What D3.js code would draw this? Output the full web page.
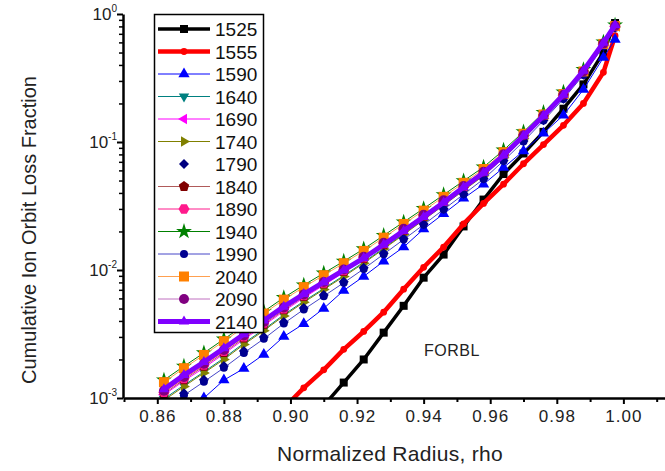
<!DOCTYPE html>
<html>
<head>
<meta charset="utf-8">
<script src="https://cdnjs.cloudflare.com/ajax/libs/d3/7.8.5/d3.min.js"></script>
<style>
  body { margin: 0; background: #fff; }
  text { font-family: "Liberation Sans", Arial, sans-serif; }
</style>
</head>
<body>
<div id="chart"></div>
<script>
// normalized radius grid
var rho = [0.862, 0.868, 0.874, 0.880, 0.886, 0.892, 0.898, 0.904, 0.910, 0.916, 0.922, 0.928,
           0.934, 0.940, 0.946, 0.952, 0.958, 0.964, 0.970, 0.976, 0.982, 0.988, 0.994, 0.9975];

// cumulative loss fraction per series
var s1525 = [2.51e-5, 3.98e-5, 6.31e-5, 1.0e-4, 1.58e-4, 2.51e-4, 3.80e-4, 6.03e-4, 8.71e-4, 1.32e-3, 2.00e-3, 3.24e-3,
             5.25e-3, 8.71e-3, 0.0132, 0.0219, 0.0355, 0.0562, 0.0813, 0.120, 0.182, 0.282, 0.501, 0.851];
var s1555 = [1.26e-4, 1.78e-4, 2.51e-4, 3.55e-4, 4.79e-4, 6.31e-4, 8.32e-4, 1.20e-3, 1.66e-3, 2.40e-3, 3.31e-3, 4.68e-3,
             7.08e-3, 0.0105, 0.0151, 0.0229, 0.0331, 0.0468, 0.0676, 0.0955, 0.135, 0.200, 0.350, 0.676];
var s1590 = [5.0e-4, 7.1e-4, 1.0e-3, 1.38e-3, 1.70e-3, 2.19e-3, 3.02e-3, 3.80e-3, 5.01e-3, 6.92e-3, 8.91e-3, 0.0117,
             0.0151, 0.0209, 0.0275, 0.0363, 0.0468, 0.0631, 0.0851, 0.117, 0.162, 0.257, 0.457, 0.631];
var s1640 = [9.84e-4, 1.26e-3, 1.60e-3, 2.05e-3, 2.68e-3, 3.43e-3, 4.47e-3, 5.70e-3, 7.17e-3, 9.04e-3, 0.0115, 0.0148,
             0.0192, 0.0249, 0.0324, 0.0423, 0.0551, 0.0759, 0.107, 0.154, 0.226, 0.345, 0.575, 0.794];
var s1690 = [1.06e-3, 1.36e-3, 1.72e-3, 2.21e-3, 2.87e-3, 3.68e-3, 4.78e-3, 6.07e-3, 7.61e-3, 9.56e-3, 0.0121, 0.0156,
             0.0201, 0.0259, 0.0337, 0.0438, 0.0568, 0.0780, 0.110, 0.158, 0.230, 0.350, 0.581, 0.800];
var s1740 = [9.60e-4, 1.23e-3, 1.57e-3, 2.00e-3, 2.62e-3, 3.36e-3, 4.38e-3, 5.59e-3, 7.04e-3, 8.88e-3, 0.0113, 0.0146,
             0.0189, 0.0246, 0.0320, 0.0418, 0.0545, 0.0752, 0.106, 0.153, 0.225, 0.343, 0.573, 0.792];
var s1790 = [8.51e-4, 1.09e-3, 1.39e-3, 1.78e-3, 2.33e-3, 2.99e-3, 3.93e-3, 5.04e-3, 6.38e-3, 8.09e-3, 0.0104, 0.0135,
             0.0176, 0.0229, 0.0301, 0.0394, 0.0518, 0.0718, 0.102, 0.148, 0.218, 0.336, 0.562, 0.783];
var s1840 = [1.08e-3, 1.39e-3, 1.77e-3, 2.26e-3, 2.94e-3, 3.76e-3, 4.88e-3, 6.20e-3, 7.76e-3, 9.73e-3, 0.0123, 0.0158,
             0.0204, 0.0263, 0.0341, 0.0443, 0.0575, 0.0787, 0.111, 0.159, 0.231, 0.351, 0.583, 0.801];
var s1890 = [1.11e-3, 1.42e-3, 1.81e-3, 2.32e-3, 3.01e-3, 3.85e-3, 4.99e-3, 6.32e-3, 7.92e-3, 9.91e-3, 0.0125, 0.0161,
             0.0207, 0.0267, 0.0345, 0.0448, 0.0580, 0.0794, 0.112, 0.160, 0.233, 0.353, 0.584, 0.803];
var s1940 = [1.38e-3, 1.77e-3, 2.25e-3, 2.88e-3, 3.70e-3, 4.74e-3, 6.08e-3, 7.62e-3, 9.44e-3, 0.0117, 0.0146, 0.0186,
             0.0237, 0.0302, 0.0387, 0.0497, 0.0637, 0.0863, 0.120, 0.170, 0.245, 0.368, 0.603, 0.820];
var s1990 = [8.20e-4, 1.05e-3, 1.34e-3, 1.72e-3, 2.25e-3, 2.90e-3, 3.82e-3, 4.92e-3, 6.25e-3, 7.95e-3, 0.0102, 0.0133,
             0.0173, 0.0226, 0.0297, 0.0390, 0.0513, 0.0712, 0.101, 0.147, 0.217, 0.334, 0.560, 0.781];
var s2040 = [1.33e-3, 1.71e-3, 2.17e-3, 2.78e-3, 3.57e-3, 4.57e-3, 5.87e-3, 7.35e-3, 9.11e-3, 0.0113, 0.0141, 0.0179,
             0.0229, 0.0291, 0.0373, 0.0480, 0.0615, 0.0833, 0.116, 0.164, 0.237, 0.356, 0.584, 0.805];
var s2090 = [1.14e-3, 1.46e-3, 1.85e-3, 2.37e-3, 3.08e-3, 3.94e-3, 5.10e-3, 6.45e-3, 8.07e-3, 0.0101, 0.0127, 0.0163,
             0.0210, 0.0270, 0.0350, 0.0453, 0.0586, 0.0802, 0.113, 0.161, 0.234, 0.355, 0.587, 0.805];
var s2140 = [1.17e-3, 1.51e-3, 1.91e-3, 2.45e-3, 3.15e-3, 4.03e-3, 5.17e-3, 6.48e-3, 8.03e-3, 9.96e-3, 0.0124, 0.0158,
             0.0202, 0.0260, 0.0337, 0.0443, 0.0575, 0.0787, 0.112, 0.160, 0.234, 0.360, 0.596, 0.820];

var names = ["1525", "1555", "1590", "1640", "1690", "1740", "1790", "1840", "1890", "1940", "1990", "2040", "2090", "2140"];
var values = [s1525, s1555, s1590, s1640, s1690, s1740, s1790, s1840, s1890, s1940, s1990, s2040, s2090, s2140];

var xTicks = [0.86, 0.88, 0.90, 0.92, 0.94, 0.96, 0.98, 1.00];
var xMinor = [0.85, 0.87, 0.89, 0.91, 0.93, 0.95, 0.97, 0.99, 1.01];
var yTicks = [1e-3, 1e-2, 1e-1, 1];
var yExp = ["-3", "-2", "-1", "0"];

// line / marker styles
var styles = {
  "1525": {line: "#000000", mark: "#000000", lw: 3.5, shape: "square", r: 4},
  "1555": {line: "#ff0000", mark: "#ff0000", lw: 4.5, shape: "circle", r: 3.4},
  "1590": {line: "#0000ff", mark: "#0000ff", lw: 1, shape: "up", r: 6.5},
  "1640": {line: "#008080", mark: "#008080", lw: 1, shape: "down", r: 6},
  "1690": {line: "#ff00ff", mark: "#ff00ff", lw: 1, shape: "left", r: 6},
  "1740": {line: "#808000", mark: "#808000", lw: 1, shape: "right", r: 6},
  "1790": {line: "none", mark: "#000080", lw: 0, shape: "diamond", r: 5},
  "1840": {line: "#b05a5a", mark: "#800000", lw: 1, shape: "pent", r: 5.5},
  "1890": {line: "#ff1a8c", mark: "#ff1a8c", lw: 1, shape: "hex", r: 5.5},
  "1940": {line: "#008000", mark: "#008000", lw: 1, shape: "star", r: 6},
  "1990": {line: "#4646c8", mark: "#000090", lw: 1, shape: "circle", r: 4},
  "2040": {line: "#ffa050", mark: "#ff8000", lw: 1, shape: "square", r: 5},
  "2090": {line: "#c070c0", mark: "#800080", lw: 1, shape: "circle", r: 5},
  "2140": {line: "#8000ff", mark: "#8000ff", lw: 5, shape: "up", r: 6}
};

function poly(n, r, a0) {
  var pts = [];
  for (var k = 0; k < n; k++) {
    var a = a0 + k * 2 * Math.PI / n;
    pts.push([r * Math.cos(a), r * Math.sin(a)]);
  }
  return "M" + pts.map(function(p) { return p[0].toFixed(2) + "," + p[1].toFixed(2); }).join("L") + "Z";
}

function markerPath(shape, r) {
  if (shape == "square") return d3.symbol(d3.symbolSquare, 4 * r * r)();
  if (shape == "circle") return d3.symbol(d3.symbolCircle, Math.PI * r * r)();
  if (shape == "star") return d3.symbol(d3.symbolStar, 2.2 * r * r)();
  if (shape == "up") return poly(3, r, -Math.PI / 2);
  if (shape == "down") return poly(3, r, Math.PI / 2);
  if (shape == "left") return poly(3, r, Math.PI);
  if (shape == "right") return poly(3, r, 0);
  if (shape == "diamond") return poly(4, r, -Math.PI / 2);
  if (shape == "pent") return poly(5, r, -Math.PI / 2);
  if (shape == "hex") return poly(6, r, 0);
}

var W = 665, H = 471;
var svg = d3.select("#chart").append("svg")
    .attr("width", W)
    .attr("height", H);

var x = d3.scaleLinear().domain([0.85, 1.0125]).range([124, 665]);
var y = d3.scaleLog().domain([1e-3, 1]).range([398, 14]);

svg.append("clipPath").attr("id", "plotclip")
  .append("rect")
    .attr("x", 124).attr("y", 0)
    .attr("width", W - 124).attr("height", 398);

var plot = svg.append("g").attr("clip-path", "url(#plotclip)");

var line = d3.line()
    .x(function(d) { return x(d[0]); })
    .y(function(d) { return y(d[1]); });

names.forEach(function(name, i) {
  var st = styles[name];
  var pts = rho.map(function(r, j) { return [r, values[i][j]]; });
  if (st.line != "none") {
    plot.append("path")
      .datum(pts)
      .attr("fill", "none")
      .attr("stroke", st.line)
      .attr("stroke-width", st.lw)
      .attr("stroke-linejoin", "round")
      .attr("d", line);
  }
  plot.selectAll(null)
    .data(pts)
    .enter()
    .append("path")
      .attr("d", markerPath(st.shape, st.r))
      .attr("fill", st.mark)
      .attr("transform", function(d) { return "translate(" + x(d[0]) + "," + y(d[1]) + ")"; });
});

// X AXIS
var xAxis = svg.append("g")
    .attr("transform", "translate(0,398)")
    .call(d3.axisBottom(x).tickValues(xTicks).tickFormat(d3.format(".2f")).tickSize(6).tickSizeOuter(0).tickPadding(6));
xAxis.select(".domain").attr("stroke-width", 2.5);
xAxis.selectAll(".tick line").attr("stroke-width", 2);
xAxis.selectAll(".tick text")
    .attr("font-size", 17)
    .attr("letter-spacing", 1)
    .attr("fill", "#222")
    .style("font-family", "'Liberation Sans', Arial, sans-serif");

var xMin = svg.append("g")
    .attr("transform", "translate(0,398)")
    .call(d3.axisBottom(x).tickValues(xMinor).tickFormat("").tickSize(4).tickSizeOuter(0));
xMin.select(".domain").remove();
xMin.selectAll(".tick line").attr("stroke-width", 2);

// Y AXIS
var yAxis = svg.append("g")
    .attr("transform", "translate(123,0)")
    .call(d3.axisLeft(y).tickValues(yTicks).tickFormat("").tickSize(6).tickSizeOuter(0));
yAxis.select(".domain").attr("stroke-width", 2.5);
yAxis.selectAll(".tick line").attr("stroke-width", 2);

var yMinorVals = y.ticks().filter(function(v) {
  var l = Math.log10(v);
  return Math.abs(l - Math.round(l)) > 1e-6;
});
var yMin = svg.append("g")
    .attr("transform", "translate(123,0)")
    .call(d3.axisLeft(y).tickValues(yMinorVals).tickFormat("").tickSize(4).tickSizeOuter(0));
yMin.select(".domain").remove();
yMin.selectAll(".tick line").attr("stroke-width", 1.5);

var yLab = svg.append("g");
yTicks.forEach(function(v, i) {
  var t = yLab.append("text")
      .attr("x", 117)
      .attr("y", y(v) + 6)
      .attr("text-anchor", "end")
      .attr("font-size", 17)
      .attr("fill", "#222");
  t.append("tspan").text("10");
  t.append("tspan").attr("dy", -8).attr("font-size", 10).text(yExp[i]);
});

// titles
svg.append("text")
    .attr("x", 390)
    .attr("y", 461)
    .attr("text-anchor", "middle")
    .attr("font-size", 21)
    .attr("letter-spacing", 0.3)
    .attr("fill", "#222")
    .text("Normalized Radius, rho");

svg.append("text")
    .attr("transform", "translate(36,230) rotate(-90)")
    .attr("text-anchor", "middle")
    .attr("font-size", 20)
    .attr("fill", "#222")
    .text("Cumulative Ion Orbit Loss Fraction");

svg.append("text")
    .attr("x", 452)
    .attr("y", 356)
    .attr("text-anchor", "middle")
    .attr("font-size", 16)
    .attr("letter-spacing", 0.5)
    .attr("fill", "#222")
    .text("FORBL");

// LEGEND
var leg = svg.append("g");
leg.append("rect")
    .attr("x", 154.5).attr("y", 14.5)
    .attr("width", 109).attr("height", 318)
    .attr("fill", "#fff")
    .attr("stroke", "#000")
    .attr("stroke-width", 1.5);

names.forEach(function(name, i) {
  var st = styles[name];
  var cy = 29 + i * 22.5;
  if (st.line != "none") {
    leg.append("line")
      .attr("x1", 158).attr("x2", 210)
      .attr("y1", cy).attr("y2", cy)
      .attr("stroke", st.line)
      .attr("stroke-width", st.lw);
  }
  leg.append("path")
    .attr("d", markerPath(st.shape, st.r))
    .attr("fill", st.mark)
    .attr("transform", "translate(184," + cy + ")");
  leg.append("text")
    .attr("x", 215)
    .attr("y", cy + 7)
    .attr("font-size", 19)
    .attr("fill", "#111")
    .text(name);
});
</script>
</body>
</html>
